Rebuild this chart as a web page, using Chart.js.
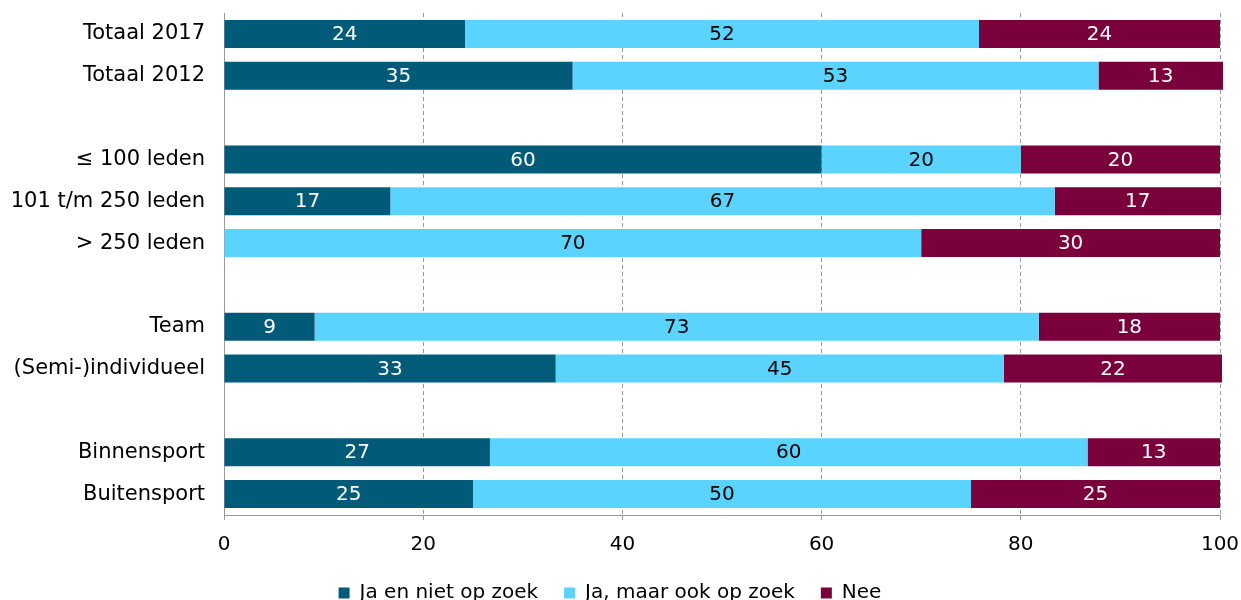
<!DOCTYPE html>
<html>
<head>
<meta charset="utf-8">
<script src="https://cdn.jsdelivr.net/npm/chart.js@4"></script>
<style>
  html, body { margin: 0; padding: 0; background: #fff; }
  #wrap { width: 1241px; height: 600px; }
</style>
</head>
<body>
<div id="wrap"><canvas id="myChart"></canvas></div>
<script>
const labels = ["Totaal 2017", "Totaal 2012", "", "≤ 100 leden", "101 t/m 250 leden", "> 250 leden", "", "Team", "(Semi-)individueel", "", "Binnensport", "Buitensport"];
const jaNiet = [24.2, 35.0, null, 60, 16.7, 0, null, 9.1, 33.3, null, 26.7, 25];
const jaOok = [51.6, 52.8, null, 20, 66.7, 70, null, 72.7, 45.0, null, 60, 50];
const nee = [24.2, 12.5, null, 20, 16.7, 30, null, 18.2, 21.9, null, 13.3, 25];
const seriesNames = ["Ja en niet op zoek", "Ja, maar ook op zoek", "Nee"];
const labelColors = ["#ffffff", "#000000", "#ffffff"];

const font = "'DejaVu Sans', Verdana, sans-serif";

// values in the middle of each bar piece
const barLabels = {
  id: "barLabels",
  afterDatasetsDraw(chart) {
    const ctx = chart.ctx;
    ctx.save();
    ctx.font = "20px " + font;
    ctx.textAlign = "center";
    ctx.textBaseline = "middle";
    chart.data.datasets.forEach((ds, i) => {
      const meta = chart.getDatasetMeta(i);
      meta.data.forEach((bar, j) => {
        const v = ds.data[j];
        if (!v) return;
        const p = bar.getCenterPoint();
        ctx.fillStyle = labelColors[i];
        ctx.fillText(Math.round(v), p.x, p.y + 1);
      });
    });
    ctx.restore();
  }
};

const data = {
  labels: labels,
  datasets: [
    { label: seriesNames[0], data: jaNiet, backgroundColor: "#005a78" },
    { label: seriesNames[1], data: jaOok, backgroundColor: "#5bd3ff" },
    { label: seriesNames[2], data: nee, backgroundColor: "#7a003c" },
  ].map(d => Object.assign(d, { barPercentage: 0.67, categoryPercentage: 1, clip: false })),
};

const config = {
  type: "bar",
  data: data,
  plugins: [barLabels],
  options: {
    indexAxis: "y",
    responsive: true,
    maintainAspectRatio: false,
    animation: false,
    layout: { padding: { top: 13, right: 21, left: 0, bottom: -13 } },
    scales: {
      x: {
        stacked: true,
        min: 0,
        max: 100,
        ticks: { stepSize: 20, color: "#000", font: { family: font, size: 20 }, padding: 13 },
        grid: { color: "#9a9a9a", tickLength: 5, tickBorderDash: [], tickColor: "#9a9a9a" },
        border: { color: "#9a9a9a", dash: [4, 3] },
        afterFit(scale) {
          scale.paddingLeft = 0;
          scale.paddingRight = 0;
          scale.height = 42;
        },
      },
      y: {
        stacked: true,
        ticks: { color: "#000", font: { family: font, size: 21 }, padding: 19 },
        grid: { display: false, drawTicks: false },
        border: { display: true, color: "#9a9a9a" },
        afterFit(scale) {
          scale.paddingTop = 0;
          scale.paddingBottom = 0;
          scale.width = 224;
        },
      },
    },
    plugins: {
      legend: {
        position: "bottom",
        labels: { color: "#000", font: { family: font, size: 20 }, boxWidth: 11, boxHeight: 11, padding: 26 },
      },
      tooltip: { enabled: false },
    },
  },
};

const myChart = new Chart(document.getElementById("myChart"), config);
</script>
</body>
</html>
